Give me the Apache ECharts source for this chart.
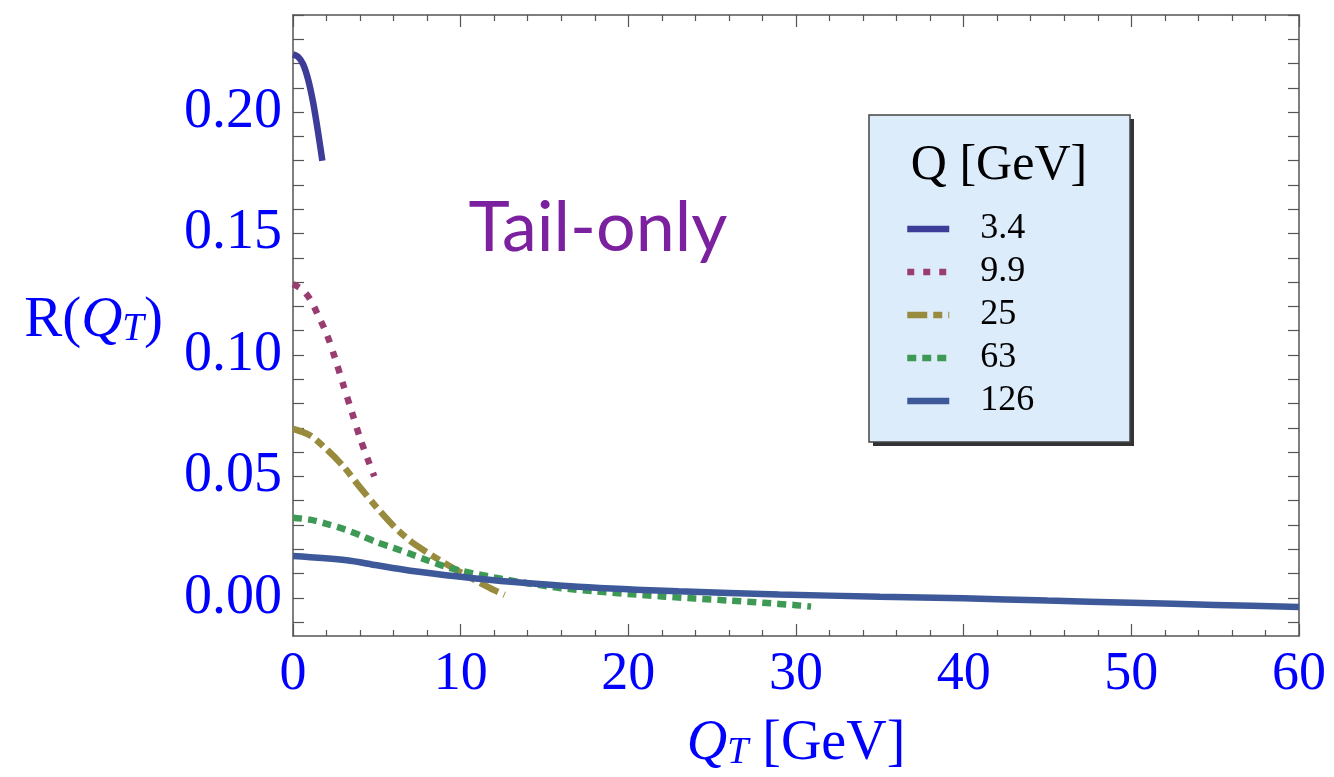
<!DOCTYPE html>
<html>
<head>
<meta charset="utf-8">
<script src="https://cdn.jsdelivr.net/npm/echarts@6/dist/echarts.min.js"></script>
<style>
  html, body { margin: 0; padding: 0; background: #ffffff; }
  #chart { width: 1334px; height: 777px; }
</style>
</head>
<body>
<div id="chart"></div>
<script>
// Legend entries: hard scale Q in GeV
const seriesNames = ['3.4', '9.9', '25', '63', '126'];

// Q = 3.4 GeV
const qt34 = [0, 0.3, 0.6, 0.9, 1.2, 1.5, 1.75];
const r34  = [0.2238, 0.2228, 0.2198, 0.2135, 0.2040, 0.1915, 0.1800];

// Q = 9.9 GeV
const qt99 = [0, 0.5, 1.0, 1.5, 2.0, 2.5, 3.0, 3.5, 4.0, 4.5, 4.85];
const r99  = [0.1292, 0.1272, 0.1232, 0.1163, 0.1088, 0.0988, 0.0877, 0.0768, 0.0658, 0.0563, 0.0500];

// Q = 25 GeV
const qt25 = [0, 1, 2, 3, 4, 5, 6, 7, 8, 9, 10, 11, 12, 12.62];
const r25  = [0.0696, 0.0670, 0.0612, 0.0542, 0.0455, 0.0372, 0.0296, 0.0234, 0.0187, 0.0145, 0.0105, 0.0068, 0.0032, 0.0013];

// Q = 63 GeV
const qt63 = [0, 1, 2, 3, 4, 5, 6, 7, 8, 9, 10, 12, 14, 16, 18, 20, 22, 24, 26, 28, 30, 30.9];
const r63  = [0.0330, 0.0322, 0.0305, 0.0284, 0.0258, 0.0229, 0.0206, 0.0181, 0.0155, 0.0131, 0.0112, 0.0084, 0.0060, 0.0040, 0.0027, 0.0016, 0.0006, -0.0003, -0.0011, -0.0020, -0.0030, -0.0036];

// Q = 126 GeV
const qt126 = [0, 3.2, 5, 7, 10, 13, 17, 23, 29, 35, 40, 45, 50, 55, 60];
const r126  = [0.0172, 0.0155, 0.0134, 0.0112, 0.0087, 0.0066, 0.0046, 0.0027, 0.0014, 0.0005, -0.0002, -0.0011, -0.0020, -0.0029, -0.0038];

// Axis ticks
const yLabelValues = [0, 0.05, 0.10, 0.15, 0.20];
const yTickValues = [-0.01, 0, 0.01, 0.02, 0.03, 0.04, 0.05, 0.06, 0.07, 0.08, 0.09, 0.10,
                     0.11, 0.12, 0.13, 0.14, 0.15, 0.16, 0.17, 0.18, 0.19, 0.20, 0.21, 0.22, 0.23, 0.24];

const colors = ['#3d3d99', '#993d71', '#998b3d', '#3d9954', '#3d5999'];
const dashes = ['solid', [7, 9], [20, 6, 9, 6], [9, 6], 'solid'];
const xs = [qt34, qt99, qt25, qt63, qt126];
const ys = [r34, r99, r25, r63, r126];

const serif = '"Liberation Serif", "Times New Roman", serif';
const frameColor = '#555555';
const blue = '#0000ff';
const lineW = 6.5;

function pairs(x, y) { return x.map((v, i) => [v, y[i]]); }

const series = seriesNames.map((name, i) => ({
  name: name,
  type: 'line',
  xAxisIndex: 0,
  yAxisIndex: 0,
  data: pairs(xs[i], ys[i]),
  symbol: 'none',
  showSymbol: false,
  smooth: 0.3,
  lineStyle: { color: colors[i], width: lineW, type: dashes[i], cap: 'butt' },
  itemStyle: { color: colors[i] },
  emphasis: { disabled: true }
}));

const xFrame = (pos, labels) => ({
  type: 'value', position: pos, min: 0, max: 60, interval: 10,
  axisLine: { show: true, onZero: false, lineStyle: { color: frameColor, width: 1.5 } },
  axisTick: { show: true, inside: true, length: 12, lineStyle: { color: frameColor, width: 1.2 } },
  minorTick: { show: true, splitNumber: 5, length: 6, lineStyle: { color: frameColor, width: 1.2 } },
  splitLine: { show: false },
  minorSplitLine: { show: false },
  axisLabel: labels
    ? { show: true, color: blue, fontFamily: serif, fontSize: 54, margin: 12 }
    : { show: false }
});

const yFrame = (pos, labels) => ({
  type: 'value', position: pos, min: -0.0157, max: 0.24,
  axisLine: { show: true, onZero: false, lineStyle: { color: frameColor, width: 1.5 } },
  axisTick: { show: true, inside: true, length: 11, customValues: yTickValues, lineStyle: { color: frameColor, width: 1.2 } },
  splitLine: { show: false },
  axisLabel: labels
    ? { show: true, customValues: yLabelValues, formatter: v => v.toFixed(2), color: blue, fontFamily: serif, fontSize: 56, margin: 11 }
    : { show: false }
});

const xBottom = xFrame('bottom', true);
xBottom.name = '{q|Q}{t|T}{n| [GeV]}';
xBottom.nameLocation = 'middle';
xBottom.nameGap = 80;
xBottom.nameTextStyle = {
  color: blue, fontFamily: serif, fontSize: 56,
  rich: {
    q: { color: blue, fontFamily: serif, fontSize: 56, fontStyle: 'italic' },
    t: { color: blue, fontFamily: serif, fontSize: 38, fontStyle: 'italic', verticalAlign: 'bottom' },
    n: { color: blue, fontFamily: serif, fontSize: 56 }
  }
};

const option = {
  backgroundColor: '#ffffff',
  animation: false,
  grid: { left: 293, top: 15, width: 1006, height: 622, containLabel: false },
  xAxis: [xBottom, xFrame('top', false)],
  yAxis: [yFrame('left', true), yFrame('right', false)],
  legend: {
    orient: 'vertical',
    left: 904, top: 211,
    padding: 0,
    itemWidth: 42, itemHeight: 14, itemGap: 7,
    selectedMode: false,
    z: 10,
    data: seriesNames,
    itemStyle: { opacity: 0 },
    lineStyle: { width: lineW, cap: 'butt' },
    textStyle: { color: '#000000', fontFamily: serif, fontSize: 36, lineHeight: 36, padding: [0, 0, 0, 26] }
  },
  graphic: [
    {
      // drop shadow of the legend panel
      type: 'rect', z: 1,
      shape: { x: 873, y: 119, width: 261, height: 327 },
      style: { fill: '#333333', stroke: null }
    },
    {
      type: 'rect', z: 2,
      shape: { x: 869, y: 115, width: 261, height: 327 },
      style: { fill: '#ddecfb', stroke: '#444444', lineWidth: 1.5 }
    },
    {
      type: 'text', z: 3, x: 999, y: 166,
      style: { text: 'Q [GeV]', fontFamily: serif, fontSize: 50, fill: '#000000', align: 'center', verticalAlign: 'middle' }
    },
    {
      type: 'text', z: 3, x: 598, y: 228,
      style: { text: 'Tail-only', fontFamily: 'Lato, "Open Sans", sans-serif', fontSize: 70, fill: '#7b209f', align: 'center', verticalAlign: 'middle' }
    },
    {
      type: 'text', z: 3, x: 163, y: 321,
      style: {
        text: '{r|R(}{q|Q}{t|T}{r|)}',
        align: 'right', verticalAlign: 'middle',
        rich: {
          r: { fill: blue, fontFamily: serif, fontSize: 57 },
          q: { fill: blue, fontFamily: serif, fontSize: 57, fontStyle: 'italic' },
          t: { fill: blue, fontFamily: serif, fontSize: 39, fontStyle: 'italic', verticalAlign: 'bottom' }
        }
      }
    }
  ],
  series: series
};

const chart = echarts.init(document.getElementById('chart'), null, { renderer: 'canvas' });
chart.setOption(option);
</script>
</body>
</html>
